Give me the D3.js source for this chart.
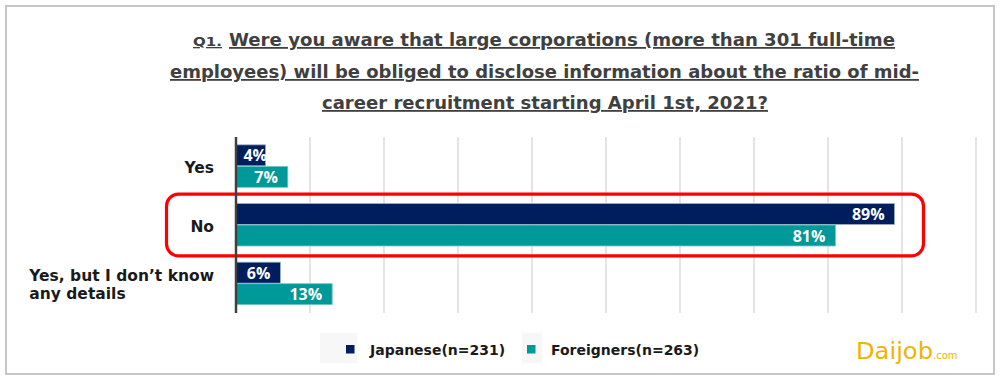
<!DOCTYPE html>
<html>
<head>
<meta charset="utf-8">
<script src="https://cdn.jsdelivr.net/npm/d3@7"></script>
<style>
  html, body { margin: 0; padding: 0; background: #ffffff; }
  svg { display: block; }
</style>
</head>
<body>
<svg id="chart" width="1000" height="380"></svg>
<script>
// ---- data ----
const categories = ["Yes", "No", "Yes, but I don\u2019t know any details"];
const categoryLines = [["Yes"], ["No"], ["Yes, but I don\u2019t know", "any details"]];
const seriesNames = ["Japanese(n=231)", "Foreigners(n=263)"];
const japanese = [4, 89, 6];
const foreigners = [7, 81, 13];
const seriesColors = ["#001e5e", "#009999"];
const xTicks = [0, 10, 20, 30, 40, 50, 60, 70, 80, 90, 100];
const titleLines = [
  "Were you aware that large corporations (more than 301 full-time",
  "employees) will be obliged to disclose information about the ratio of mid-",
  "career recruitment starting April 1st, 2021?"
];
const highlighted = "No";

const svg = d3.select("#chart");
const FONT = "'DejaVu Sans', Verdana, sans-serif";

// outer frame
svg.append("rect").attr("x", 6).attr("y", 6).attr("width", 988).attr("height", 368)
  .attr("fill", "#fff").attr("stroke", "#c6c6c6").attr("stroke-width", 2);

// ---- title ----
const titleG = svg.append("g").attr("font-family", FONT).attr("font-weight", "bold")
  .attr("fill", "#404040").style("text-decoration", "underline");
titleG.append("text").attr("x", 193).attr("y", 46).attr("font-size", 13)
  .attr("textLength", 29).attr("lengthAdjust", "spacingAndGlyphs").text("Q1.");
const titleSpecs = [
  {x: 229, y: 46, w: 666},
  {x: 170, y: 78, w: 749},
  {x: 322, y: 109, w: 446}
];
titleLines.forEach((t, i) => {
  titleG.append("text").attr("x", titleSpecs[i].x).attr("y", titleSpecs[i].y)
    .attr("font-size", 18).attr("textLength", titleSpecs[i].w)
    .attr("lengthAdjust", "spacingAndGlyphs").text(t);
});

// ---- scales ----
const x = d3.scaleLinear().domain([0, 100]).range([236, 976]);
const y0 = d3.scaleBand().domain(categories).range([137, 313]).padding(0);
const groupH = 43;
const y1 = d3.scaleBand().domain(seriesNames).range([0, groupH]).padding(0);
const off = (y0.bandwidth() - groupH) / 2;

// gridlines
svg.append("g").selectAll("line").data(xTicks.slice(1)).join("line")
  .attr("x1", d => x(d)).attr("x2", d => x(d))
  .attr("y1", 137).attr("y2", 313)
  .attr("stroke", "#d3d3d3").attr("stroke-width", 1.2);

// highlight rounded rect around "No"
svg.append("rect")
  .attr("x", 166.5).attr("y", y0(highlighted) - 1.5)
  .attr("width", 757).attr("height", y0.bandwidth() + 3)
  .attr("rx", 12).attr("ry", 12)
  .attr("fill", "none").attr("stroke", "#ff0000").attr("stroke-width", 3.2);

// bars
const rows = [];
categories.forEach((c, i) => {
  rows.push({cat: c, s: seriesNames[0], v: japanese[i], color: seriesColors[0]});
  rows.push({cat: c, s: seriesNames[1], v: foreigners[i], color: seriesColors[1]});
});
const barG = svg.append("g");
barG.selectAll("rect").data(rows).join("rect")
  .attr("x", x(0))
  .attr("y", d => y0(d.cat) + off + y1(d.s))
  .attr("width", d => x(d.v) - x(0))
  .attr("height", y1.bandwidth() - 0.5)
  .attr("fill", d => d.color)
  .attr("stroke", d => d.s === seriesNames[0] ? "#9fb0c8" : "#7cc8c8")
  .attr("stroke-width", 0.8);

// value labels
barG.selectAll("text").data(rows).join("text")
  .attr("x", d => Math.max(x(d.v) - 10, x(0) + 31))
  .attr("y", d => y0(d.cat) + off + y1(d.s) + y1.bandwidth() / 2)
  .attr("dy", "0.36em")
  .attr("text-anchor", "end")
  .attr("font-family", "'Open Sans', 'DejaVu Sans', sans-serif").attr("font-weight", "bold").attr("font-size", 16)
  .attr("fill", "#ffffff")
  .text(d => d.v + "%");

// axis line
const yAxis = svg.append("g").attr("transform", `translate(${x(0)},0)`)
  .call(d3.axisLeft(y0).tickSize(0).tickFormat(""));
yAxis.select(".domain").attr("stroke", "#404040").attr("stroke-width", 2.5)
  .attr("d", "M0,137V313");

// category labels (block right-aligned, lines left-aligned within block)
const catG = svg.append("g").attr("font-family", FONT).attr("font-weight", "bold")
  .attr("font-size", 15.5).attr("fill", "#1a1a1a");
categories.forEach((c, i) => {
  const lines = categoryLines[i];
  const cy = y0(c) + y0.bandwidth() / 2 + 1;
  const texts = lines.map((l, j) => catG.append("text")
    .attr("y", cy + (j - (lines.length - 1) / 2) * 18)
    .attr("dy", "0.36em").text(l));
  const maxW = d3.max(texts, t => t.node().getComputedTextLength());
  texts.forEach(t => t.attr("x", 214 - maxW));
});

// legend
const legG = svg.append("g");
legG.append("rect").attr("x", 320).attr("y", 333).attr("width", 363).attr("height", 30).attr("fill", "#f7f7f7");
legG.append("rect").attr("x", 357).attr("y", 333).attr("width", 165).attr("height", 30).attr("fill", "#ffffff");
legG.append("rect").attr("x", 542).attr("y", 333).attr("width", 141).attr("height", 30).attr("fill", "#ffffff");
const legX = [346, 527];
seriesNames.forEach((s, i) => {
  legG.append("rect").attr("x", legX[i]).attr("y", 345).attr("width", 8.5).attr("height", 8.5)
    .attr("fill", seriesColors[i]);
  legG.append("text").attr("x", legX[i] + 24).attr("y", 349.5).attr("dy", "0.36em")
    .attr("font-family", FONT).attr("font-weight", "bold").attr("font-size", 14)
    .attr("fill", "#1a1a1a").text(s);
});

// logo
const logo = svg.append("text").attr("x", 856).attr("y", 359)
  .attr("font-family", "'Comic Sans MS', 'DejaVu Sans', sans-serif")
  .attr("fill", "#f0b400");
logo.append("tspan").attr("font-size", 23)
  .attr("textLength", 77).attr("lengthAdjust", "spacingAndGlyphs").text("Daijob");
logo.append("tspan").attr("font-size", 10).text(".com");
</script>
</body>
</html>
